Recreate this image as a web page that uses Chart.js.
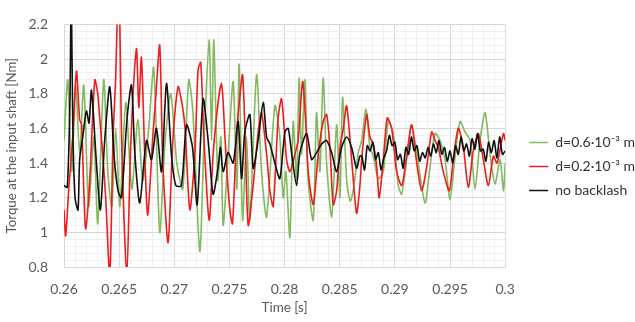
<!DOCTYPE html>
<html>
<head>
<meta charset="utf-8">
<script src="https://cdn.jsdelivr.net/npm/chart.js@4/dist/chart.umd.min.js"></script>
<style>
html,body{margin:0;padding:0;background:#fff;}
#wrap{position:relative;width:635px;height:322px;}
</style>
</head>
<body>
<div id="wrap"><canvas id="c" width="635" height="322"></canvas></div>
<script>
const seriesNames = ["d=0.6\u00b710\u207b\u00b3 m", "d=0.2\u00b710\u207b\u00b3 m", "no backlash"];
const xTitle = "Time [s]";
const yTitle = "Torque at the input shaft [Nm]";

const greenT = [
 0.26000,0.26034,0.26070,0.26106,0.26142,0.26179,0.26224,0.26270,0.26306,0.26360,
 0.26397,0.26433,0.26469,0.26506,0.26560,0.26615,0.26669,0.26714,0.26768,0.26814,
 0.26868,0.26914,0.26968,0.27023,0.27077,0.27131,0.27168,0.27231,0.27268,0.27316,
 0.27338,0.27358,0.27395,0.27422,0.27443,0.27488,0.27534,0.27567,0.27588,0.27619,
 0.27655,0.27685,0.27746,0.27791,0.27837,0.27912,0.27957,0.27987,0.28012,0.28048,
 0.28078,0.28109,0.28132,0.28154,0.28184,0.28214,0.28260,0.28290,0.28320,0.28350,
 0.28381,0.28427,0.28472,0.28502,0.28526,0.28563,0.28595,0.28622,0.28668,0.28699,
 0.28738,0.28774,0.28804,0.28849,0.28895,0.28940,0.28985,0.29031,0.29062,0.29107,
 0.29152,0.29198,0.29273,0.29319,0.29364,0.29409,0.29455,0.29500,0.29546,0.29591,
 0.29636,0.29682,0.29727,0.29772,0.29818,0.29863,0.29908,0.29954,0.29984,0.30000];
const greenV = [
 1.53,1.88,1.35,1.85,1.45,1.85,1.15,1.55,1.05,1.88,
 1.35,1.15,1.60,1.15,1.75,1.25,1.65,1.30,1.60,1.95,
 1.00,1.50,1.80,1.40,1.25,1.88,1.70,0.89,1.50,2.11,
 1.53,2.11,1.30,1.55,1.04,1.45,1.87,1.25,1.97,1.07,
 1.55,1.07,1.91,1.35,1.09,1.73,1.55,1.20,1.35,0.97,
 1.64,1.30,1.89,1.45,1.88,1.30,1.07,1.69,1.35,1.89,
 1.40,1.09,1.62,1.20,1.78,1.30,1.18,1.24,1.46,1.53,
 1.71,1.49,1.44,1.31,1.35,1.64,1.57,1.27,1.22,1.42,
 1.62,1.46,1.17,1.38,1.57,1.53,1.42,1.19,1.44,1.64,
 1.58,1.53,1.25,1.53,1.69,1.45,1.28,1.42,1.24,1.40];

const redT = [
 0.26000,0.26015,0.26043,0.26079,0.26113,0.26142,0.26160,0.26179,0.26197,0.26233,
 0.26279,0.26306,0.26324,0.26351,0.26378,0.26415,0.26445,0.26469,0.26496,0.26524,
 0.26569,0.26605,0.26657,0.26678,0.26702,0.26732,0.26759,0.26805,0.26832,0.26868,
 0.26896,0.26944,0.26986,0.27034,0.27065,0.27095,0.27141,0.27186,0.27216,0.27240,
 0.27268,0.27316,0.27352,0.27397,0.27428,0.27443,0.27474,0.27504,0.27528,0.27564,
 0.27594,0.27619,0.27640,0.27670,0.27715,0.27761,0.27791,0.27837,0.27867,0.27897,
 0.27942,0.27973,0.28018,0.28048,0.28093,0.28123,0.28163,0.28193,0.28214,0.28260,
 0.28305,0.28350,0.28381,0.28411,0.28441,0.28472,0.28502,0.28532,0.28563,0.28608,
 0.28653,0.28683,0.28699,0.28744,0.28774,0.28804,0.28835,0.28858,0.28895,0.28931,
 0.28971,0.29016,0.29062,0.29107,0.29152,0.29198,0.29243,0.29289,0.29334,0.29364,
 0.29394,0.29439,0.29494,0.29530,0.29575,0.29621,0.29666,0.29711,0.29757,0.29802,
 0.29848,0.29893,0.29926,0.29984,0.30000];
const redV = [
 1.13,0.98,1.25,1.55,1.93,1.65,1.62,1.25,1.02,1.30,
 1.88,1.80,1.66,1.45,1.20,0.75,1.55,1.90,2.50,1.50,
 0.75,1.50,2.06,1.72,2.01,1.45,1.10,1.55,1.78,2.08,
 1.40,0.94,1.52,1.84,1.76,1.62,1.13,1.45,1.94,1.98,
 1.55,1.07,1.45,1.75,1.86,1.75,1.38,1.13,1.05,1.56,
 1.78,1.91,1.60,1.04,1.27,1.58,1.69,1.45,1.24,1.15,
 1.66,1.77,1.42,1.35,1.45,1.53,1.87,1.62,1.35,1.16,
 1.45,1.64,1.68,1.49,1.16,1.24,1.49,1.60,1.73,1.42,
 1.11,1.27,1.42,1.68,1.55,1.51,1.38,1.20,1.42,1.66,
 1.60,1.35,1.27,1.44,1.62,1.40,1.24,1.38,1.58,1.53,
 1.49,1.35,1.24,1.42,1.60,1.49,1.26,1.47,1.57,1.42,
 1.27,1.44,1.40,1.57,1.53];

const blackT = [
 0.26000,0.26030,0.26055,0.26065,0.26080,0.26100,0.26127,0.26142,0.26170,0.26203,
 0.26227,0.26249,0.26294,0.26330,0.26369,0.26415,0.26454,0.26490,0.26521,0.26572,
 0.26612,0.26642,0.26687,0.26748,0.26793,0.26838,0.26884,0.26929,0.26975,0.27014,
 0.27065,0.27111,0.27165,0.27207,0.27261,0.27307,0.27352,0.27398,0.27419,0.27443,
 0.27488,0.27534,0.27579,0.27610,0.27640,0.27685,0.27715,0.27760,0.27806,0.27837,
 0.27867,0.27912,0.27957,0.28003,0.28033,0.28063,0.28109,0.28139,0.28200,0.28245,
 0.28290,0.28336,0.28381,0.28427,0.28472,0.28517,0.28563,0.28608,0.28653,0.28683,
 0.28700,0.28725,0.28750,0.28775,0.28800,0.28825,0.28850,0.28875,0.28900,0.28925,
 0.28950,0.28975,0.29000,0.29025,0.29050,0.29075,0.29100,0.29125,0.29150,0.29175,
 0.29200,0.29225,0.29250,0.29275,0.29300,0.29325,0.29350,0.29375,0.29400,0.29425,
 0.29450,0.29475,0.29500,0.29525,0.29550,0.29575,0.29600,0.29625,0.29650,0.29675,
 0.29700,0.29725,0.29750,0.29775,0.29800,0.29825,0.29850,0.29875,0.29900,0.29925,
 0.29950,0.29975,0.30000];
const blackV = [
 1.27,1.26,1.80,2.45,1.60,1.20,1.13,1.42,1.55,1.70,
 1.63,1.82,1.40,1.13,1.53,1.84,1.44,1.24,1.20,1.66,
 1.85,1.46,1.17,1.53,1.42,1.60,1.35,1.86,1.44,1.27,
 1.27,1.62,1.49,1.16,1.77,1.53,1.22,1.38,1.49,1.35,
 1.46,1.40,1.64,1.31,1.58,1.68,1.37,1.53,1.75,1.55,
 1.51,1.40,1.31,1.58,1.60,1.46,1.27,1.46,1.57,1.42,
 1.46,1.51,1.53,1.46,1.35,1.49,1.55,1.49,1.37,1.44,
 1.44,1.36,1.50,1.47,1.52,1.42,1.46,1.36,1.43,1.47,
 1.56,1.50,1.52,1.42,1.45,1.37,1.49,1.45,1.55,1.47,
 1.50,1.41,1.46,1.43,1.49,1.44,1.51,1.46,1.53,1.45,
 1.49,1.41,1.47,1.40,1.50,1.45,1.55,1.47,1.51,1.44,
 1.54,1.48,1.57,1.47,1.48,1.41,1.52,1.46,1.53,1.43,
 1.55,1.45,1.47];

const toPts = (t, v) => t.map((x, i) => ({x: x, y: v[i]}));
const FONT = "Lato, 'Liberation Sans', sans-serif";
const isMajorY = v => Math.abs(v * 5 - Math.round(v * 5)) < 1e-6;
const isMajorX = v => Math.abs(v * 200 - Math.round(v * 200)) < 1e-6;

const legendShift = {
  id: 'legendShift',
  afterLayout(chart) {
    const lg = chart.legend;
    if (lg) { lg.left += 14; lg.right += 14; }
  }
};

new Chart(document.getElementById('c'), {
  type: 'line',
  data: {
    datasets: [
      {label: seriesNames[0], data: toPts(greenT, greenV), borderColor: '#84b960', backgroundColor: '#84b960', borderWidth: 1.6, order: 2},
      {label: seriesNames[1], data: toPts(redT, redV), borderColor: '#ee1c1c', backgroundColor: '#ee1c1c', borderWidth: 1.6, order: 1},
      {label: seriesNames[2], data: toPts(blackT, blackV), borderColor: '#111111', backgroundColor: '#111111', borderWidth: 1.6, order: 0}
    ]
  },
  plugins: [legendShift],
  options: {
    responsive: false,
    animation: false,
    layout: {padding: {top: 11, right: 4, left: 0, bottom: 0}},
    elements: {point: {radius: 0}, line: {tension: 0.25, cubicInterpolationMode: 'default'}},
    plugins: {
      tooltip: {enabled: false},
      legend: {
        position: 'right',
        align: 'center',
        labels: {
          usePointStyle: true, pointStyle: 'line', pointStyleWidth: 19,
          boxHeight: 8,
          font: {family: FONT, size: 14}, color: '#333333', padding: 10,
          sort: (a, b) => a.datasetIndex - b.datasetIndex
        }
      }
    },
    scales: {
      x: {
        type: 'linear', min: 0.26, max: 0.3,
        afterFit(s) { s.height = 55; },
        border: {color: '#d9d9d9'},
        grid: {drawTicks: false, color: c => isMajorX(c.tick.value) ? '#d9d9d9' : '#f0f0f0'},
        ticks: {stepSize: 0.001, autoSkip: false, maxRotation: 0, padding: 14,
          font: {family: FONT, size: 14}, color: '#595959',
          callback: v => isMajorX(v) ? String(Math.round(v * 1000) / 1000) : ''},
        title: {display: true, text: xTitle, font: {family: FONT, size: 13.5}, color: '#595959', padding: {top: 2, bottom: 6}}
      },
      y: {
        min: 0.8, max: 2.2,
        afterFit(s) { s.width = 64; },
        border: {color: '#d9d9d9'},
        grid: {drawTicks: false, color: c => isMajorY(c.tick.value) ? '#d9d9d9' : '#f0f0f0'},
        ticks: {stepSize: 0.04, autoSkip: false, padding: 16,
          font: {family: FONT, size: 14}, color: '#595959',
          callback: v => isMajorY(v) ? String(Math.round(v * 10) / 10) : ''},
        title: {display: true, text: yTitle, font: {family: FONT, size: 13.3}, color: '#595959', padding: {top: 4, bottom: 0}}
      }
    }
  }
});
</script>
</body>
</html>
